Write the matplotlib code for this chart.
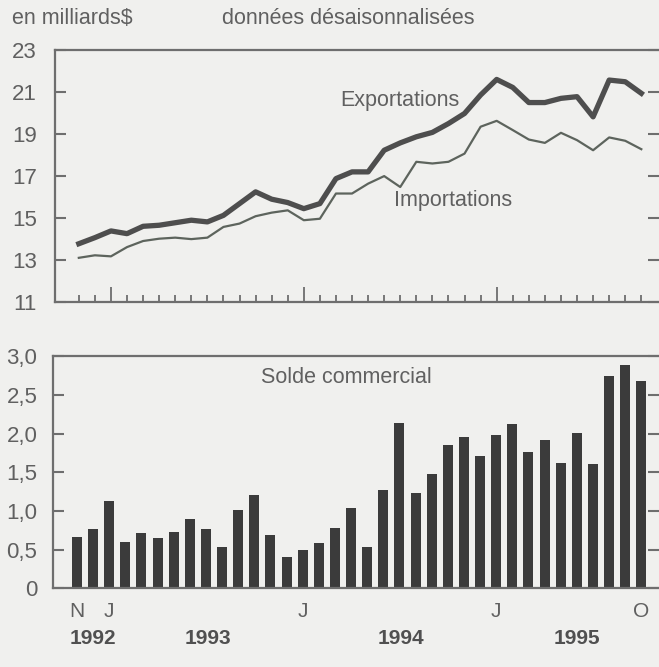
import matplotlib
matplotlib.use('Agg')
import matplotlib.pyplot as plt
import matplotlib.transforms as mtransforms

plt.rcParams['font.family'] = ['Liberation Sans', 'DejaVu Sans']

# Monthly data, Nov 1992 -> Oct 1995 (36 months), billions $
exportations = [13.78, 14.07, 14.39, 14.26, 14.61, 14.66, 14.78, 14.90, 14.82, 15.13,
                15.69, 16.25, 15.90, 15.74, 15.45, 15.69, 16.88, 17.20, 17.20, 18.23,
                18.58, 18.87, 19.08, 19.50, 19.98, 20.86, 21.60, 21.22, 20.50, 20.50,
                20.70, 20.78, 19.82, 21.57, 21.49, 20.94]
importations = [13.11, 13.23, 13.18, 13.62, 13.91, 14.02, 14.07, 14.00, 14.07, 14.58,
                14.74, 15.09, 15.26, 15.37, 14.90, 14.97, 16.17, 16.17, 16.64, 17.00,
                16.48, 17.68, 17.60, 17.68, 18.07, 19.35, 19.63, 19.19, 18.74, 18.58,
                19.06, 18.71, 18.23, 18.84, 18.68, 18.28]
solde = [0.66, 0.77, 1.13, 0.60, 0.71, 0.65, 0.73, 0.90, 0.76, 0.54,
         1.01, 1.20, 0.69, 0.41, 0.50, 0.58, 0.78, 1.04, 0.53, 1.27,
         2.14, 1.23, 1.48, 1.85, 1.96, 1.71, 1.98, 2.12, 1.76, 1.92,
         1.62, 2.01, 1.61, 2.74, 2.88, 2.68]
month_ticks = [0, 2, 14, 26, 35]
month_labels = ['N', 'J', 'J', 'J', 'O']
year_pos = [1.0, 8.1, 20.1, 31.0]
year_labels = ['1992', '1993', '1994', '1995']

x = list(range(len(solde)))
bg = '#f0f0ee'
txt = '#606060'
spine_c = '#6e6e6e'
xlim = (-1.5, 36.1)

fig = plt.figure(figsize=(6.59, 6.67), dpi=100, facecolor=bg)

# ---- top panel: exports / imports
ax1 = fig.add_axes([0.083, 0.547, 0.917, 0.378], facecolor=bg)
ax1.plot(x, exportations, color='#4e4e4e', lw=3.8, solid_joinstyle='round')
ax1.plot(x, importations, color='#5d645d', lw=1.6)
ax1.set_xlim(*xlim)
ax1.set_ylim(11, 23)
ax1.set_yticks([11, 13, 15, 17, 19, 21, 23])
ax1.tick_params(axis='y', direction='in', length=8, width=1.5, color=spine_c,
                labelsize=16, labelcolor=txt, right=True, pad=13)
ax1.set_xticks(x, minor=True)
ax1.set_xticks([2, 14, 26])
ax1.tick_params(axis='x', which='minor', direction='in', length=5, width=1.3, color=spine_c)
ax1.tick_params(axis='x', which='major', direction='in', length=11, width=1.3, color=spine_c,
                labelbottom=False)
ax1.text(20, 20.6, 'Exportations', fontsize=15.5, color=txt, ha='center', va='center')
ax1.text(23.3, 15.85, 'Importations', fontsize=15.5, color=txt, ha='center', va='center')

# ---- bottom panel: trade balance
ax2 = fig.add_axes([0.080, 0.118, 0.920, 0.348], facecolor=bg)
ax2.bar(x, solde, width=0.62, color='#3b3b3b')
ax2.set_xlim(*xlim)
ax2.set_ylim(0, 3.0)
yt = [0, 0.5, 1.0, 1.5, 2.0, 2.5, 3.0]
ax2.set_yticks(yt)
ax2.set_yticklabels(['0', '0,5', '1,0', '1,5', '2,0', '2,5', '3,0'])
ax2.tick_params(axis='y', direction='in', length=8, width=1.5, color=spine_c,
                labelsize=16, labelcolor=txt, right=True, pad=11)
ax2.set_xticks(month_ticks)
ax2.set_xticklabels(month_labels)
ax2.tick_params(axis='x', length=0, labelsize=15, labelcolor=txt, pad=10)
ax2.text(16.7, 2.72, 'Solde commercial', fontsize=15.5, color=txt, ha='center', va='center')

trans = mtransforms.blended_transform_factory(ax2.transData, fig.transFigure)
for xp, yl in zip(year_pos, year_labels):
    ax2.text(xp, 1 - 638 / 667, yl, transform=trans, fontsize=15, fontweight='bold',
             color='#505050', ha='center', va='center')

for ax in (ax1, ax2):
    for s in ax.spines.values():
        s.set_color(spine_c)
        s.set_linewidth(1.6)
    ax.spines['right'].set_visible(False)

fig.text(12 / 659, 1 - 18 / 667, 'en milliards$', fontsize=15.5, color=txt, ha='left', va='center')
fig.text(348 / 659, 1 - 18 / 667, 'données désaisonnalisées', fontsize=15.5, color=txt,
         ha='center', va='center')

fig.savefig('out.png', dpi=100, facecolor=bg)
